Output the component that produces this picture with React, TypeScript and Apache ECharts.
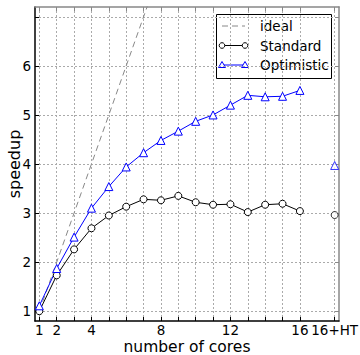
import React, { useEffect, useRef } from "react";
import * as echarts from "echarts";

const cores = [1, 2, 3, 4, 5, 6, 7, 8, 9, 10, 11, 12, 13, 14, 15, 16];
const standard = [1.0, 1.73, 2.26, 2.69, 2.95, 3.13, 3.28, 3.26, 3.35, 3.22, 3.17, 3.18, 3.02, 3.17, 3.19, 3.04];
const optimistic = [1.11, 1.87, 2.51, 3.1, 3.54, 3.94, 4.23, 4.48, 4.67, 4.87, 5.0, 5.2, 5.4, 5.37, 5.38, 5.5];
const htX = 18;
const htStandard = 2.96;
const htOptimistic = 3.97;
const idealX = [1, 16];
const xTickValues = [1, 2, 3, 4, 5, 6, 7, 8, 9, 10, 11, 12, 13, 14, 15, 16, 18];
const xLabelValues = [1, 2, 4, 8, 12, 16, 18];
const yTickValues = [1, 2, 3, 4, 5, 6, 7];
const yLabelValues = [1, 2, 3, 4, 5, 6];
const legendNames = ["ideal", "Standard", "Optimistic"];

const FONT = "DejaVu Sans";

export default function App() {
  const ref = useRef<HTMLDivElement>(null);
  useEffect(() => {
    const chart = echarts.init(ref.current!, null, { renderer: "svg" });
    const xMin = 0.75, xMax = 18.25, yMin = 0.8, yMax = 7.2;
    const grid = { left: 35, right: 21, top: 7, bottom: 34, containLabel: false, outerBoundsMode: "none" };
    const lx0 = 222, lx1 = 245, ltx = 260;
    const rows = [26, 45.5, 65];
    const option: any = {
      animation: false,
      backgroundColor: "#fff",
      grid,
      xAxis: [
        {
          type: "value", min: xMin, max: xMax, position: "bottom",
          name: "number of cores", nameLocation: "middle", nameGap: 18.5, nameMoveOverlap: false,
          nameTextStyle: { fontFamily: FONT, fontSize: 15.5, color: "#000", lineHeight: 15.5 },
          axisLine: { lineStyle: { color: "#000", width: 1.5 } },
          axisTick: { inside: true, length: 4, customValues: xTickValues, lineStyle: { color: "#000" } },
          axisLabel: {
            customValues: xLabelValues, margin: 2, fontFamily: FONT, fontSize: 13.5, color: "#000",
            lineHeight: 14, hideOverlap: false, showMinLabel: true, showMaxLabel: true,
            formatter: (v: number) => (v === htX ? "16+HT" : String(v)),
          },
          splitLine: { show: true, lineStyle: { color: "#aaa", type: [2, 2], width: 1 } },
        },
        {
          type: "value", min: xMin, max: xMax, position: "top",
          axisLine: { lineStyle: { color: "#888", width: 1.5 } },
          axisTick: { inside: true, length: 4, customValues: xTickValues, lineStyle: { color: "#888" } },
          axisLabel: { show: false },
          splitLine: { show: false },
        },
      ],
      yAxis: [
        {
          type: "value", min: yMin, max: yMax, position: "left",
          name: "speedup", nameLocation: "middle", nameGap: 12.5, nameMoveOverlap: false,
          nameTextStyle: { fontFamily: FONT, fontSize: 16, color: "#000", lineHeight: 16 },
          axisLine: { show: true, lineStyle: { color: "#000", width: 1.5 } },
          axisTick: { show: true, inside: true, length: 4, customValues: yTickValues, lineStyle: { color: "#000" } },
          axisLabel: { customValues: yLabelValues, margin: 4, fontFamily: FONT, fontSize: 13.5, color: "#000" },
          splitLine: { show: true, lineStyle: { color: "#aaa", type: [2, 2], width: 1 } },
        },
        {
          type: "value", min: yMin, max: yMax, position: "right",
          axisLine: { show: true, lineStyle: { color: "#888", width: 1.5 } },
          axisTick: { show: true, inside: true, length: 4, customValues: yTickValues, lineStyle: { color: "#888" } },
          axisLabel: { show: false },
          splitLine: { show: false },
        },
      ],
      series: [
        {
          name: "ideal", type: "line", data: idealX.map((x) => [x, x]),
          symbol: "none", clip: true,
          lineStyle: { color: "#888", width: 1, type: [6, 4] },
        },
        {
          name: "Standard", type: "line", data: cores.map((c, i) => [c, standard[i]]),
          symbol: "circle", symbolSize: 7,
          itemStyle: { color: "#fff", borderColor: "#000", borderWidth: 1 },
          lineStyle: { color: "#000", width: 1 },
        },
        {
          name: "Optimistic", type: "line", data: cores.map((c, i) => [c, optimistic[i]]),
          symbol: "triangle", symbolSize: 8,
          itemStyle: { color: "#fff", borderColor: "#0000ff", borderWidth: 1 },
          lineStyle: { color: "#0000ff", width: 1 },
        },
        {
          name: "Standard HT", type: "scatter", data: [[htX, htStandard]],
          symbol: "circle", symbolSize: 7,
          itemStyle: { color: "#fff", borderColor: "#000", borderWidth: 1 },
        },
        {
          name: "Optimistic HT", type: "scatter", data: [[htX, htOptimistic]],
          symbol: "triangle", symbolSize: 8,
          itemStyle: { color: "#fff", borderColor: "#0000ff", borderWidth: 1 },
        },
      ],
      graphic: [
        {
          type: "group", z: 100,
          children: [
            { type: "rect", shape: { x: 216.5, y: 14.5, width: 115, height: 64 }, style: { fill: "#fff", stroke: "#000", lineWidth: 1 } },
            { type: "line", shape: { x1: lx0, y1: rows[0], x2: lx1, y2: rows[0] }, style: { stroke: "#888", lineWidth: 1, lineDash: [6, 4] } },
            { type: "line", shape: { x1: lx0, y1: rows[1], x2: lx1, y2: rows[1] }, style: { stroke: "#000", lineWidth: 1 } },
            { type: "circle", shape: { cx: lx0, cy: rows[1], r: 2.8 }, style: { fill: "#fff", stroke: "#000", lineWidth: 1 } },
            { type: "circle", shape: { cx: lx1, cy: rows[1], r: 2.8 }, style: { fill: "#fff", stroke: "#000", lineWidth: 1 } },
            { type: "line", shape: { x1: lx0, y1: rows[2], x2: lx1, y2: rows[2] }, style: { stroke: "#0000ff", lineWidth: 1 } },
            { type: "polygon", shape: { points: [[lx0, rows[2] - 3.5], [lx0 - 3.5, rows[2] + 2.5], [lx0 + 3.5, rows[2] + 2.5]] }, style: { fill: "#fff", stroke: "#0000ff", lineWidth: 1 } },
            { type: "polygon", shape: { points: [[lx1, rows[2] - 3.5], [lx1 - 3.5, rows[2] + 2.5], [lx1 + 3.5, rows[2] + 2.5]] }, style: { fill: "#fff", stroke: "#0000ff", lineWidth: 1 } },
            ...legendNames.map((n, i) => ({
              type: "text", x: ltx, y: rows[i],
              style: { text: n, fontFamily: FONT, fontSize: 13.5, fill: "#000", verticalAlign: "middle" },
            })),
          ],
        },
      ],
    };
    chart.setOption(option);
    return () => chart.dispose();
  }, []);
  return (
    <div
      ref={ref}
      style={{ position: "fixed", left: 0, top: 0, width: 360, height: 355 }}
    />
  );
}
